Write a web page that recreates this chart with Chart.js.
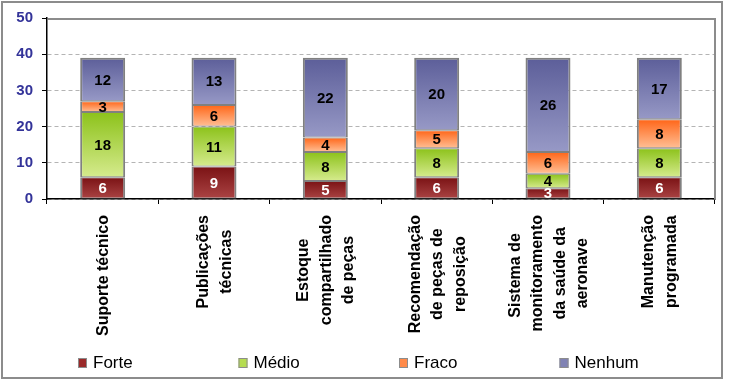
<!DOCTYPE html>
<html>
<head>
<meta charset="utf-8">
<script src="https://cdn.jsdelivr.net/npm/chart.js@4.4.1/dist/chart.umd.min.js"></script>
<style>
  html, body { margin: 0; padding: 0; background: #fff; }
  #wrap { width: 729px; height: 381px; position: relative; }
</style>
</head>
<body>
<div id="wrap"><canvas id="chart"></canvas></div>
<script>
// Categories (line breaks as in the original labels)
const categories = [
    ['Suporte técnico'],
    ['Publicações', 'técnicas'],
    ['Estoque', 'compartilhado', 'de peças'],
    ['Recomendação', 'de peças de', 'reposição'],
    ['Sistema de ', 'monitoramento', 'da saúde da', 'aeronave'],
    ['Manutenção', 'programada']
];

// Series values
const forte = [6, 9, 5, 6, 3, 6];
const medio = [18, 11, 8, 8, 4, 8];
const fraco = [3, 6, 4, 5, 6, 8];
const nenhum = [12, 13, 22, 20, 26, 17];

// Y axis range / ticks
const yMin = 0;
const yMax = 50;
const yStep = 10;

const FONT = '"Liberation Sans", Arial, sans-serif';

// Vertical gradient per segment: dark at the top, light at the bottom
function segmentGradient(top, bottom) {
    return (ctx) => {
        const chart = ctx.chart;
        const y = chart.scales.y;
        if (!y || ctx.type !== 'data') return top;
        let start = 0;
        for (let d = 0; d < ctx.datasetIndex; d++) {
            start += chart.data.datasets[d].data[ctx.dataIndex];
        }
        const y0 = y.getPixelForValue(start + ctx.raw);
        const y1 = y.getPixelForValue(start);
        if (!isFinite(y0) || !isFinite(y1) || y0 === y1) return top;
        const g = chart.ctx.createLinearGradient(0, y0, 0, y1);
        g.addColorStop(0, top);
        g.addColorStop(1, bottom);
        return g;
    };
}

const series = [
    { label: 'Forte', data: forte, top: '#7a1214', bottom: '#ab4444', legend: '#9a2a2a', text: '#fff' },
    { label: 'Médio', data: medio, top: '#8cc21a', bottom: '#d6eb8e', legend: '#b5dc50', text: '#000' },
    { label: 'Fraco', data: fraco, top: '#ff6518', bottom: '#ffc096', legend: '#ff8a4a', text: '#000' },
    { label: 'Nenhum', data: nenhum, top: '#5c5e99', bottom: '#9799c6', legend: '#8082b4', text: '#000' }
];

// Outer frame + plot border (top/right)
const framePlugin = {
    id: 'frame',
    beforeDraw(chart) {
        const ctx = chart.ctx;
        ctx.save();
        ctx.fillStyle = '#fff';
        ctx.fillRect(0, 0, chart.width, chart.height);
        ctx.restore();
    },
    afterDraw(chart) {
        const ctx = chart.ctx;
        const a = chart.chartArea;
        ctx.save();
        ctx.strokeStyle = '#8c8c8c';
        ctx.lineWidth = 2;
        ctx.strokeRect(2, 2, 720, 376);
        ctx.beginPath();
        ctx.moveTo(a.left + 1, a.top + 1);
        ctx.lineTo(a.right, a.top + 1);
        ctx.lineTo(a.right, a.bottom);
        ctx.stroke();
        ctx.restore();
    }
};

// Values inside the segments
const valueLabels = {
    id: 'valueLabels',
    afterDatasetsDraw(chart) {
        const ctx = chart.ctx;
        ctx.save();
        ctx.font = 'bold 15px ' + FONT;
        ctx.textAlign = 'center';
        ctx.textBaseline = 'middle';
        chart.data.datasets.forEach((ds, di) => {
            chart.getDatasetMeta(di).data.forEach((bar, i) => {
                ctx.fillStyle = series[di].text;
                ctx.fillText(String(ds.data[i]), bar.x, (bar.y + bar.base) / 2 + 1);
            });
        });
        ctx.restore();
    }
};

// Rotated category labels, lines centred on each other
const xLabels = {
    id: 'xLabels',
    afterDraw(chart) {
        const ctx = chart.ctx;
        const xs = chart.scales.x;
        const lineGap = 22.5;
        ctx.save();
        ctx.font = 'bold 16px ' + FONT;
        ctx.fillStyle = '#000';
        ctx.textAlign = 'center';
        ctx.textBaseline = 'middle';
        chart.data.labels.forEach((lines, i) => {
            const cx = xs.getPixelForValue(i);
            const maxW = Math.max(...lines.map(l => ctx.measureText(l).width));
            const cy = chart.chartArea.bottom + 16 + maxW / 2;
            lines.forEach((line, k) => {
                const lx = cx + (k - (lines.length - 1) / 2) * lineGap;
                ctx.save();
                ctx.translate(lx, cy);
                ctx.rotate(-Math.PI / 2);
                ctx.fillText(line, 0, 1);
                ctx.restore();
            });
        });
        ctx.restore();
    }
};

// Legend row at the bottom
const legendRow = {
    id: 'legendRow',
    afterDraw(chart) {
        const ctx = chart.ctx;
        ctx.save();
        ctx.font = '17px ' + FONT;
        ctx.textBaseline = 'middle';
        ctx.textAlign = 'left';
        series.forEach((s, i) => {
            const x = 78 + i * 160.5;
            ctx.fillStyle = s.legend;
            ctx.fillRect(x, 358, 9, 10);
            ctx.strokeStyle = '#8c8c8c';
            ctx.lineWidth = 1;
            ctx.strokeRect(x + 0.5, 358.5, 8, 9);
            ctx.fillStyle = '#000';
            ctx.fillText(s.label, x + 15, 363);
        });
        ctx.restore();
    }
};

new Chart(document.getElementById('chart').getContext('2d'), {
    type: 'bar',
    data: {
        labels: categories,
        datasets: series.map(s => ({
            label: s.label,
            data: s.data,
            backgroundColor: segmentGradient(s.top, s.bottom),
            borderColor: '#808080',
            borderWidth: (ctx) => ({
                left: 2,
                right: 2,
                top: ctx.datasetIndex === series.length - 1 ? 2 : 1,
                bottom: 1
            }),
            borderSkipped: false,
            barPercentage: 0.404,
            categoryPercentage: 1
        }))
    },
    options: {
        responsive: true,
        maintainAspectRatio: false,
        animation: false,
        devicePixelRatio: 1,
        layout: { padding: { top: 17, right: 14, bottom: 172, left: 0 } },
        plugins: {
            legend: { display: false },
            tooltip: { enabled: false }
        },
        scales: {
            x: {
                stacked: true,
                ticks: { display: false },
                grid: {
                    drawOnChartArea: false,
                    drawTicks: true,
                    tickLength: 5,
                    color: '#000',
                    tickColor: '#000',
                    offset: true
                },
                border: { color: '#000', width: 1.5 },
                afterFit(scale) { scale.height = 10; }
            },
            y: {
                stacked: true,
                min: yMin,
                max: yMax,
                ticks: {
                    stepSize: yStep,
                    padding: 9,
                    color: '#333399',
                    font: { family: FONT, size: 15, weight: 'bold' }
                },
                grid: {
                    color: '#b4b4b4',
                    lineWidth: 1,
                    tickColor: '#000',
                    tickLength: 5,
                    tickBorderDash: []
                },
                border: { color: '#000', width: 1.5, dash: [4, 3] },
                afterFit(scale) { scale.width = 47; }
            }
        }
    },
    plugins: [framePlugin, valueLabels, xLabels, legendRow]
});
</script>
</body>
</html>
